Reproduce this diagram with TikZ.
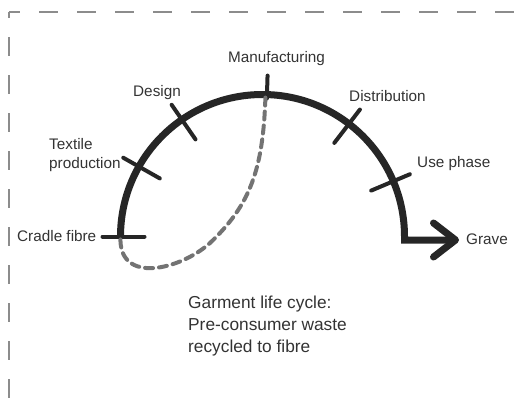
\documentclass[tikz,border=0pt]{standalone}
\usepackage{fontspec}
\setmainfont{Liberation Sans}
\usetikzlibrary{calc,arrows.meta}
\definecolor{ink}{HTML}{262626}
\definecolor{txt}{HTML}{333333}
\definecolor{frame}{HTML}{8C8C8C}
\definecolor{loopgray}{HTML}{737373}
\begin{document}
\begin{tikzpicture}[x=1pt,y=-1pt,
  lbl/.style={text=txt,inner sep=0pt,font=\fontsize{15.3}{18.4}\selectfont},
  note/.style={text=txt,inner sep=0pt,align=left,font=\fontsize{17.3}{21.8}\selectfont},
  cyclearc/.style={draw=ink,line width=7pt},
  tickmark/.style={draw=ink,line width=4pt,line cap=round},
  recycle/.style={draw=loopgray,line width=4pt,line cap=round,dash pattern=on 8pt off 6pt},
  border/.style={draw=frame,line width=1.8pt,dash pattern=on 19pt off 19pt}]
\useasboundingbox (0,0) rectangle (521,410);
% frame
\coordinate (corner) at (9,12);
\draw[border,dash phase=13pt] (corner) -- (9,412);
\draw[border,dash phase=8pt] (corner) -- (523,12);
% arc
\coordinate (C) at (262.5,236.5);
\coordinate (cradle) at ($(C)+(180:142)$);
\coordinate (bend) at (404.5,240);
\coordinate (gravetip) at (459,240);
\draw[cyclearc,-{Straight Barb[length=22pt,width=34pt,round]}] (cradle) arc[start angle=180,end angle=360,radius=142] -- (bend) -- (gravetip);
% ticks
\foreach \nm/\ang in {cradleT/180,textile/-150.5,design/-124.6,distribution/-52.5,usephase/-22.9}{
  \coordinate (\nm) at ($(C)+(\ang:142)$);
  \draw[tickmark] ($(C)+(\ang:118)$) -- ($(C)+(\ang:160)$);
}
\coordinate (mfg) at ($(C)+(-88.2:142)$);
\draw[tickmark] ($(C)+(-88.2:138)$) -- ($(C)+(-88.2:161)$);
% recycling loop
\coordinate (mfgin) at ($(C)+(-88.8:139)$);
\coordinate (loopmid) at (210,243);
\draw[recycle] (mfgin) .. controls (263,170) and (250,205) .. (loopmid) .. controls (180,270) and (118,285) .. (cradle);
% labels
\node[lbl,anchor=base] (lmfg) at (276.5,62) {Manufacturing};
\node[lbl,anchor=base west] (ldes) at (133,96) {Design};
\node[lbl,anchor=base west] (ldis) at (349,101.5) {Distribution};
\node[lbl,anchor=base west,align=left] (ltex) at (49,168) {Textile\\production};
\node[lbl,anchor=base west] (luse) at (417,167) {Use phase};
\node[lbl,anchor=base west] (lcra) at (17,241) {Cradle fibre};
\node[lbl,anchor=base west] (lgra) at (466,244) {Grave};
\node[note,anchor=base west] (note) at (188,352) {Garment life cycle:\\Pre-consumer waste\\recycled to fibre};
\end{tikzpicture}
\end{document}
